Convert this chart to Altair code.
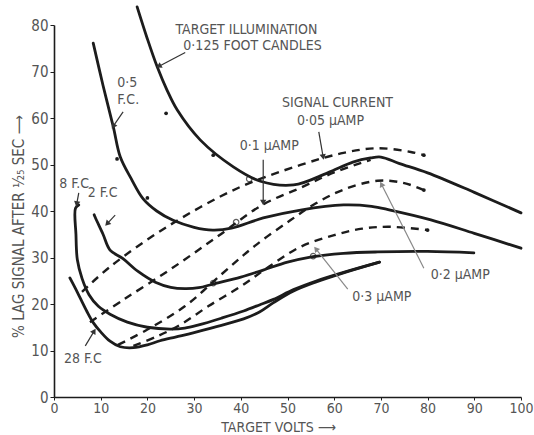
import math
import altair as alt
import pandas as pd

# ---------------- data ----------------
# solid curves: target illumination (foot candles)
fc0125_x = [17.8, 20.0, 22.1, 24.2, 26.4, 31.3, 38.4, 44.2, 51.3, 58.6, 64.0, 67.8, 70.0, 74.0, 80.0, 90.0, 100.0]
fc0125_y = [83.9, 77.0, 71.0, 66.0, 61.7, 55.3, 49.5, 46.4, 45.6, 48.2, 50.5, 51.4, 51.6, 50.2, 48.2, 44.0, 39.6]

fc05_x = [8.4, 10.5, 12.7, 14.2, 16.5, 19.1, 22.0, 25.5, 30.0, 34.0, 38.0, 44.8, 52.8, 62.0, 68.0, 72.0, 80.7, 90.0, 100.0]
fc05_y = [76.1, 67.0, 58.1, 51.6, 47.0, 42.6, 40.0, 38.0, 36.5, 35.9, 36.3, 38.5, 40.2, 41.3, 41.0, 40.2, 38.1, 35.2, 32.0]

fc2_x = [8.6, 8.8, 10.5, 12.0, 14.7, 18.0, 21.7, 25.0, 28.0, 31.0, 34.1, 40.0, 44.8, 50.0, 54.9, 62.0, 69.3, 80.0, 89.9]
fc2_y = [39.2, 38.7, 35.0, 31.6, 29.8, 27.0, 24.7, 23.6, 23.3, 23.5, 24.3, 25.8, 27.3, 29.0, 30.1, 30.9, 31.2, 31.3, 31.0]

fc8_x = [5.3, 4.6, 4.7, 5.0, 6.0, 7.5, 9.5, 12.0, 15.7, 20.0, 24.9, 28.0, 31.0, 36.0, 40.6, 44.0, 47.0, 51.3, 56.0, 62.0, 69.7]
fc8_y = [41.3, 40.6, 35.0, 29.5, 25.5, 22.0, 19.5, 17.8, 16.1, 15.0, 14.6, 14.8, 15.5, 17.0, 18.5, 19.8, 21.0, 23.1, 24.9, 26.8, 29.0]

fc28_x = [3.4, 4.5, 5.6, 7.0, 8.4, 10.0, 12.0, 14.2, 17.0, 20.0, 22.7, 26.0, 29.8, 35.0, 40.6, 44.0, 47.0, 51.3, 56.0, 62.0, 69.7]
fc28_y = [25.6, 23.5, 21.3, 18.5, 16.0, 14.0, 12.0, 10.8, 10.6, 11.2, 12.1, 12.9, 13.8, 15.2, 16.8, 18.3, 20.3, 22.8, 24.7, 26.7, 29.0]

# dashed curves: signal current (micro-amp)
sc005_x = [6.0, 12.0, 24.2, 39.3, 52.8, 62.0, 69.3, 76.4, 79.2]
sc005_y = [22.6, 28.0, 36.6, 44.9, 49.9, 52.5, 53.5, 52.7, 52.0]

sc01_x = [7.7, 15.0, 25.0, 35.0, 44.6, 52.8, 60.0, 67.8]
sc01_y = [16.1, 21.0, 27.5, 34.5, 41.3, 45.0, 48.3, 51.0]

sc02_x = [13.7, 20.0, 28.0, 36.0, 43.0, 50.6, 56.0, 62.0, 69.3, 75.0, 79.2]
sc02_y = [11.2, 14.5, 19.5, 26.5, 32.5, 38.0, 41.6, 44.6, 46.5, 46.0, 44.5]

sc03_x = [17.0, 22.0, 27.0, 33.0, 40.0, 46.0, 52.8, 60.0, 66.0, 72.0, 80.0]
sc03_y = [11.0, 13.0, 15.5, 19.5, 23.8, 28.0, 32.3, 34.8, 36.2, 36.6, 35.9]

# plotted observation marks
dot_x = [24.0, 34.1, 13.5, 20.0, 79.2, 79.2, 80.0]
dot_y = [61.0, 52.0, 51.2, 42.8, 52.0, 44.5, 35.9]
ring_x = [41.8, 39.0, 34.1, 55.5]
ring_y = [46.9, 37.6, 24.5, 30.3]

# tick labels
x_ticks = [0, 10, 20, 30, 40, 50, 60, 70, 80, 90, 100]
y_ticks = [0, 10, 20, 30, 40, 50, 60, 70, 80]

# annotation texts
lab_text = ["TARGET ILLUMINATION", "0·125 FOOT CANDLES", "0·5", "F.C.", "SIGNAL CURRENT",
            "0·05 μAMP", "0·1 μAMP", "8 F.C", "2 F.C", "28 F.C", "0·2 μAMP", "0·3 μAMP"]
lab_x = [26.0, 27.7, 15.7, 15.9, 60.7, 59.2, 46.1, 4.3, 10.4, 6.2, 87.0, 70.2]
lab_y = [78.9, 75.4, 67.6, 63.8, 63.2, 59.4, 54.0, 45.8, 43.9, 8.1, 26.2, 21.5]
lab_align = ["left", "left", "center", "center", "center", "center", "center",
             "center", "center", "center", "center", "center"]

# annotation arrows (from -> to)
arr_x1 = [28.1, 14.8, 56.7, 44.8, 5.3, 13.1, 6.7, 79.2, 62.9]
arr_y1 = [74.1, 61.3, 57.0, 51.0, 43.9, 39.1, 11.0, 27.7, 23.2]
arr_x2 = [22.6, 12.8, 57.6, 44.8, 4.9, 11.5, 8.5, 70.2, 56.2]
arr_y2 = [71.2, 58.4, 51.8, 42.0, 41.7, 37.4, 14.0, 45.6, 31.7]
arr_kind = ["dark"] * 7 + ["grey"] * 2

# ---------------- tables ----------------
def curve_rows(name, xs, ys):
    return [dict(curve=name, x=x, y=y, i=i) for i, (x, y) in enumerate(zip(xs, ys))]

solid = pd.DataFrame(
    curve_rows("0.125", fc0125_x, fc0125_y) + curve_rows("0.5", fc05_x, fc05_y)
    + curve_rows("2", fc2_x, fc2_y) + curve_rows("8", fc8_x, fc8_y)
    + curve_rows("28", fc28_x, fc28_y)
)
dashed = pd.DataFrame(
    curve_rows("0.05", sc005_x, sc005_y) + curve_rows("0.1", sc01_x, sc01_y)
    + curve_rows("0.2", sc02_x, sc02_y) + curve_rows("0.3", sc03_x, sc03_y)
)
dots = pd.DataFrame(dict(x=dot_x, y=dot_y))
rings = pd.DataFrame(dict(x=ring_x, y=ring_y))
labels = pd.DataFrame(dict(text=lab_text, x=lab_x, y=lab_y, align=lab_align))

W, H = 467, 372
PX, PY = W / 100.0, H / 80.0
ang = []
for a, b, c, d in zip(arr_x1, arr_y1, arr_x2, arr_y2):
    dx = (c - a) * PX
    dy = -(d - b) * PY
    ang.append(math.degrees(math.atan2(dx, -dy)) % 360)
arrows = pd.DataFrame(dict(x1=arr_x1, y1=arr_y1, x2=arr_x2, y2=arr_y2, kind=arr_kind, angle=ang))

FONT = "Liberation Sans Narrow, DejaVu Sans Condensed, Roboto, DejaVu Sans"
INK = "#1c1c1c"
GREY = "#555555"

xs = alt.Scale(domain=[0, 100], nice=False, zero=True)
ys = alt.Scale(domain=[0, 80], nice=False, zero=True)

base_x = alt.X("x:Q", scale=xs, axis=alt.Axis(
    values=x_ticks, title="TARGET VOLTS  ⟶", grid=False, tickSize=3, labelPadding=1,
    labelFontSize=14, labelColor=GREY, titleFontSize=14, titleColor=GREY, titleFontWeight="normal",
    titleX=224, titleY=30, titleBaseline="middle", domainColor=INK, tickColor=INK,
    labelFont=FONT, titleFont=FONT, domainWidth=1.6, labelFlush=False))
base_y = alt.Y("y:Q", scale=ys, axis=alt.Axis(
    values=y_ticks, title="% LAG SIGNAL AFTER ¹⁄₂₅ SEC  ⟶", grid=False, tickSize=4, labelPadding=2,
    labelFontSize=15, labelColor=GREY, titleFontSize=15, titleColor=GREY, titleFontWeight="normal",
    titleX=-36, titleY=201, titleBaseline="middle", domainColor=INK, tickColor=INK,
    labelFont=FONT, titleFont=FONT, domainWidth=1.6, labelFlush=False))

solid_layer = alt.Chart(solid).mark_line(
    interpolate="catmull-rom", strokeWidth=2.8, color=INK, strokeCap="round"
).encode(x=base_x, y=base_y, detail="curve:N", order="i:Q")

dashed_layer = alt.Chart(dashed).mark_line(
    interpolate="catmull-rom", strokeWidth=2.4, color=INK, strokeDash=[8, 6]
).encode(x="x:Q", y="y:Q", detail="curve:N", order="i:Q")

dot_layer = alt.Chart(dots).mark_circle(size=14, color=INK, opacity=1).encode(x="x:Q", y="y:Q")
ring_layer = alt.Chart(rings).mark_point(size=30, color=INK, strokeWidth=1.2, filled=False).encode(x="x:Q", y="y:Q")

kind_color = alt.Color("kind:N", scale=alt.Scale(domain=["dark", "grey"], range=["#333333", "#888888"]), legend=None)
arrow_lines = alt.Chart(arrows).mark_rule(strokeWidth=1.2).encode(
    x="x1:Q", y="y1:Q", x2="x2:Q", y2="y2:Q", color=kind_color)
arrow_heads = alt.Chart(arrows).mark_point(shape="triangle", size=40, filled=True, opacity=1).encode(
    x="x2:Q", y="y2:Q", angle=alt.Angle("angle:Q", scale=None), color=kind_color)

text_left = alt.Chart(labels).transform_filter(alt.datum.align == "left").mark_text(
    font=FONT, fontSize=14, color=GREY, baseline="middle", align="left"
).encode(x="x:Q", y="y:Q", text="text:N")
text_center = alt.Chart(labels).transform_filter(alt.datum.align == "center").mark_text(
    font=FONT, fontSize=14, color=GREY, baseline="middle", align="center"
).encode(x="x:Q", y="y:Q", text="text:N")

chart = alt.layer(
    solid_layer, dashed_layer, dot_layer, ring_layer, arrow_lines, arrow_heads, text_left, text_center
).properties(
    width=W, height=H,
    autosize=alt.AutoSizeParams(type="none"),
    padding={"left": 54, "top": 25, "right": 13, "bottom": 38},
    background="white",
).configure_view(stroke=None)

chart.save("out.html", embed_options={"renderer": "svg", "actions": False})
